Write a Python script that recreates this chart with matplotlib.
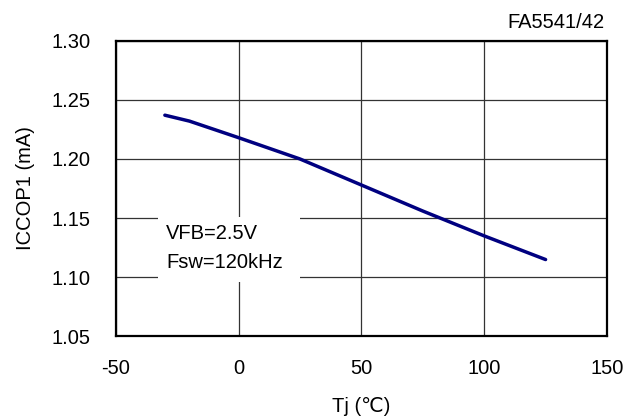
import matplotlib
matplotlib.use("Agg")
from matplotlib import pyplot as plt
from matplotlib.patches import Rectangle

plt.rcParams['font.family'] = ['Liberation Sans', 'DejaVu Sans']
plt.rcParams['axes.unicode_minus'] = False

# junction temperature (C) and ICCOP1 current (mA)
tj = [-30, -20, 0, 25, 50, 75, 100, 125]
iccop1 = [1.237, 1.232, 1.218, 1.200, 1.178, 1.156, 1.135, 1.115]

x_ticks = [-50, 0, 50, 100, 150]
y_ticks = [1.05, 1.10, 1.15, 1.20, 1.25, 1.30]

fs = 14.5

fig = plt.figure(figsize=(6.43, 4.19), dpi=100)
ax = fig.add_axes([0.18, 0.197, 0.764, 0.706])

ax.plot(tj, iccop1, color='#000080', linewidth=2.5, solid_capstyle='round', zorder=3)

ax.set_xlim(-50, 150)
ax.set_ylim(1.05, 1.30)
ax.set_xticks(x_ticks)
ax.set_yticks(y_ticks)
ax.set_yticklabels(['%.2f' % v for v in y_ticks])
ax.tick_params(length=0, labelsize=fs, colors='black')
ax.tick_params(axis='x', pad=16)
ax.tick_params(axis='y', pad=18)
ax.grid(True, color='#333333', linewidth=0.9)
ax.set_axisbelow(True)
for s in ax.spines.values():
    s.set_linewidth(1.6)
    s.set_color('black')

ax.set_xlabel('Tj (\u2103)', fontsize=fs, labelpad=14)
ax.set_ylabel('ICCOP1 (mA)', fontsize=fs, labelpad=12)

# condition box (white background hides the grid)
ax.add_patch(Rectangle((0.0865, 0.184), 0.289, 0.22, transform=ax.transAxes,
                       facecolor='white', edgecolor='none', zorder=2))
ax.text(0.103, 0.299, 'VFB=2.5V\nFsw=120kHz', transform=ax.transAxes,
        fontsize=fs, va='center', ha='left', linespacing=1.65, zorder=4)

fig.text(0.94, 0.947, 'FA5541/42', fontsize=fs, ha='right', va='center')

fig.savefig('out.png', dpi=100)
